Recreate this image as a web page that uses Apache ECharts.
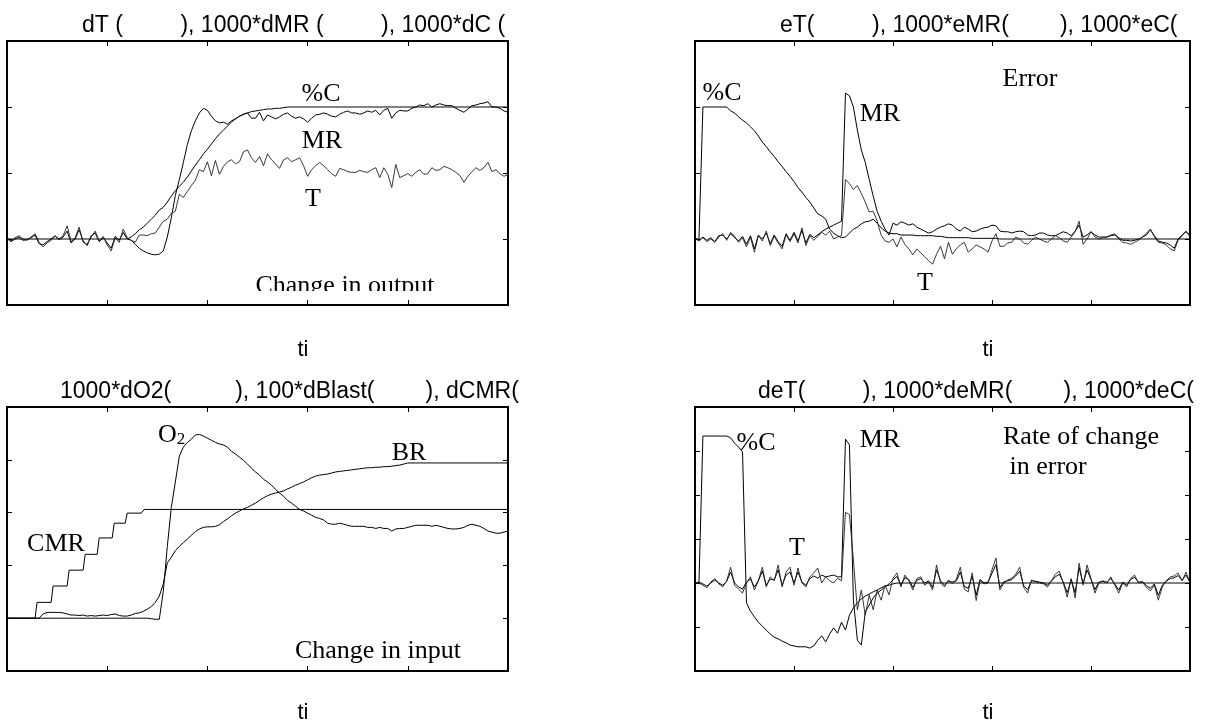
<!DOCTYPE html>
<html>
<head>
<meta charset="utf-8">
<script src="https://cdn.jsdelivr.net/npm/echarts@6/dist/echarts.min.js"></script>
<style>
html, body { margin: 0; padding: 0; background: #fff; }
#chart { width: 1209px; height: 726px; }
</style>
</head>
<body>
<div id="chart"></div>
<script>
// Sample instants shared by every panel (0..250, every 2 time units)
const t = Array.from({ length: 126 }, (_, i) => i * 2);

// Panel 1: change in output
const dC = [
  0,0,0,0,0,0,0,0,0,0,
  0,0,0,0,0,0,0,0,0,0,
  0,0,0,0,0,0,0,0,0,0,
  0,0.03,0.08,0.14,0.18,0.24,0.30,0.36,0.44,0.48,
  0.56,0.65,0.73,0.80,0.86,0.94,1.03,1.12,1.20,1.29,
  1.36,1.44,1.52,1.59,1.65,1.71,1.77,1.82,1.86,1.89,
  1.91,1.93,1.94,1.95,1.96,1.97,1.97,1.98,1.98,1.99,
  2,2,2,2,2,2,2,2,2,2,
  2,2,2,2,2,2,2,2,2,2,
  2,2,2,2,2,2,2,2,2,2,
  2,2,2,2,2,2,2,2,2,2,
  2,2,2,2,2,2,2,2,2,2,
  2,2,2,2,2,2
];
const dMR = [
  0.02,-0.04,0,0.03,-0.02,-0.01,0.02,0.06,-0.07,-0.09,
  -0.04,0,0.05,-0.01,0.03,0.12,-0.06,0,0.14,-0.03,
  -0.1,0.05,0.09,-0.04,0.02,-0.06,-0.14,0.04,-0.02,0.1,
  0,-0.02,-0.08,-0.14,-0.18,-0.21,-0.23,-0.24,-0.23,-0.18,
  0.03,0.32,0.66,0.90,1.16,1.43,1.64,1.79,1.91,1.98,
  1.95,1.86,1.79,1.76,1.77,1.74,1.79,1.82,1.86,1.89,
  1.91,1.83,1.83,1.92,1.79,1.88,1.85,1.82,1.85,1.89,
  1.91,1.86,1.83,1.85,1.82,1.77,1.83,1.88,1.89,1.91,
  1.89,1.86,1.85,1.89,1.92,1.94,1.91,1.91,1.89,1.91,
  1.94,1.92,1.95,1.88,1.95,1.98,1.83,1.91,1.95,1.94,
  1.94,1.98,2.0,2.03,2.02,2.05,2.0,2.03,2.05,2.03,
  2.02,2.02,1.98,1.95,1.92,1.97,2.02,2.03,2.05,2.06,
  2.08,2.0,2.0,1.98,1.94,1.92
];
const dT = [
  0,-0.03,0.02,0.05,0,-0.02,0.03,0.08,-0.05,-0.12,
  -0.06,-0.02,0.04,0,0.05,0.2,-0.04,0.02,0.18,-0.05,
  -0.08,0.03,0.12,-0.03,0.04,-0.09,-0.18,0.02,-0.05,0.15,
  0.02,-0.02,-0.05,0.06,0.06,0.05,0.08,0.09,0.18,0.27,
  0.30,0.39,0.42,0.68,0.63,0.72,0.81,0.89,1.05,1.02,
  1.17,0.96,1.19,0.98,1.10,1.17,1.20,1.14,1.17,1.32,
  1.35,1.23,1.16,1.25,1.11,1.29,1.20,1.14,1.07,1.20,
  1.23,1.17,1.20,1.23,1.11,0.95,1.05,1.11,1.16,1.11,
  1.05,0.99,0.95,1.07,1.05,1.02,1.01,1.01,1.04,1.02,
  1.01,1.05,1.08,0.93,1.08,0.98,0.78,1.13,0.93,0.96,
  0.99,0.95,1.01,1.05,0.98,0.99,1.08,1.04,1.05,1.10,
  1.08,1.05,1.01,0.96,0.86,0.95,1.02,1.08,1.04,1.08,
  1.16,1.02,1.05,0.99,0.95,0.98
];

// Panel 2: error
const eC = [
  0,0,2,2,2,2,2,2,2,1.94,
  1.91,1.85,1.80,1.76,1.70,1.64,1.56,1.47,1.40,1.32,
  1.25,1.17,1.10,1.02,0.95,0.87,0.78,0.71,0.63,0.56,
  0.47,0.38,0.35,0.30,0.15,0.09,0.05,0.02,0.03,0.09,
  0.15,0.18,0.23,0.26,0.27,0.30,0.24,0.17,0.12,0.09,
  0.08,0.08,0.06,0.06,0.06,0.06,0.05,0.05,0.05,0.05,
  0.05,0.04,0.04,0.03,0.02,0.02,0.02,0.02,0.02,0.02,
  0.01,0.01,0.01,0.01,0.01,0.01,0.01,0,0,0,
  0,0,0,0,0,0,0,0,0,0,
  0,0,0,0,0,0,0,0,0,0,
  0,0,0,0,0,0,0,0,0,0,
  0,0,0,0,0,0,0,0,0,0,
  0,0,0,0,0,0
];
const eMR = [
  0,-0.02,0.03,-0.02,0.02,-0.04,0.05,0.06,0,0.08,
  0.02,-0.03,0.04,-0.08,0.05,-0.15,0.06,0,0.09,-0.07,
  0.06,-0.04,-0.11,0.08,-0.02,0.1,-0.03,0.13,-0.06,0.07,
  0.02,0.06,0.11,0.15,0.18,0.21,0.24,0.27,2.21,2.17,
  2.0,1.65,1.35,1.16,0.90,0.65,0.42,0.27,0.15,0.06,
  0.24,0.21,0.26,0.24,0.21,0.23,0.18,0.15,0.12,0.09,
  0.11,0.15,0.18,0.20,0.23,0.21,0.15,0.12,0.18,0.15,
  0.11,0.12,0.15,0.17,0.18,0.21,0.20,0.12,0.11,0.11,
  0.09,0.11,0.12,0.11,0.06,0.05,0.06,0.09,0.09,0.06,
  0.05,0.05,0.08,0.11,0.09,0.05,0.12,0.21,0.03,0.06,
  0.11,0.06,0.03,0.03,0.03,0.05,0.06,0.02,-0.02,-0.02,
  -0.03,-0.02,0,0.03,0.06,0.14,0.05,-0.03,-0.05,-0.06,
  -0.09,-0.14,0,0.06,0.11,0.06
];
const eT = [
  0.02,-0.03,0.02,-0.04,0,-0.05,0.03,0.08,-0.02,0.1,
  0.04,-0.05,0.02,-0.12,0.03,-0.2,0.05,-0.03,0.12,-0.1,
  0.04,-0.06,-0.15,0.06,-0.04,0.08,-0.06,0.17,-0.1,0.05,
  -0.02,0.04,0.1,0.06,0.12,0,0.03,0.05,0.90,0.84,
  0.75,0.81,0.69,0.56,0.41,0.42,0.27,0.06,-0.03,-0.05,
  0,-0.12,0.03,-0.08,-0.15,-0.24,-0.15,-0.21,-0.27,-0.33,
  -0.38,-0.23,-0.11,-0.30,-0.05,-0.23,-0.15,-0.09,-0.05,-0.20,
  -0.15,-0.09,-0.12,-0.15,-0.20,-0.03,0.08,-0.11,-0.11,-0.06,
  -0.05,0.03,0,-0.06,-0.08,-0.02,0.03,0,-0.03,-0.05,
  0,0.05,0.02,-0.03,-0.05,0.03,0.11,0.27,-0.08,0,
  0.11,0.03,0,0.02,0.03,0.06,0.08,0,-0.05,-0.06,
  -0.08,-0.05,-0.02,0.03,0.09,0.15,0.03,-0.05,-0.06,-0.09,
  -0.15,-0.18,-0.02,0.05,0.12,0.03
];

// Panel 3: change in input
const dO2 = [
  0,0,0,0,0,0,0,0,0,0,
  0,0,0,0,0,0,0,0,0,0,
  0,0,0,0,0,0,0,0,0,0,
  0,0,0,0,0,0,-0.01,-0.02,-0.02,0.51,
  1.36,2.10,2.58,3.07,3.24,3.33,3.39,3.47,3.48,3.45,
  3.41,3.37,3.33,3.30,3.28,3.24,3.16,3.11,3.05,2.99,
  2.92,2.84,2.77,2.71,2.63,2.58,2.52,2.44,2.37,2.31,
  2.23,2.18,2.12,2.06,2.03,1.99,1.95,1.91,1.89,1.86,
  1.80,1.78,1.78,1.80,1.78,1.76,1.74,1.74,1.74,1.74,
  1.72,1.72,1.70,1.72,1.70,1.70,1.65,1.69,1.70,1.70,
  1.72,1.74,1.76,1.76,1.76,1.76,1.74,1.76,1.74,1.72,
  1.70,1.69,1.69,1.70,1.72,1.76,1.78,1.76,1.74,1.70,
  1.65,1.63,1.61,1.61,1.63,1.65
];
const dBlast = [
  0,0,0,0,0,0,0,0,0,0.08,
  0.11,0.11,0.11,0.11,0.10,0.08,0.06,0.06,0.05,0.06,
  0.04,0.05,0.04,0.05,0.06,0.05,0.07,0.08,0.05,0.04,
  0.04,0.06,0.09,0.10,0.13,0.17,0.22,0.30,0.42,0.65,
  1.05,1.15,1.28,1.36,1.43,1.50,1.57,1.64,1.69,1.72,
  1.73,1.73,1.74,1.77,1.83,1.88,1.94,1.99,2.03,2.07,
  2.10,2.14,2.18,2.23,2.28,2.32,2.35,2.37,2.39,2.41,
  2.45,2.48,2.52,2.55,2.58,2.62,2.66,2.69,2.71,2.72,
  2.73,2.75,2.77,2.78,2.79,2.80,2.81,2.82,2.83,2.84,
  2.85,2.85,2.86,2.86,2.87,2.87,2.88,2.89,2.90,2.92,
  2.94,2.94,2.94,2.94,2.94,2.94,2.94,2.94,2.94,2.94,
  2.94,2.94,2.94,2.94,2.94,2.94,2.94,2.94,2.94,2.94,
  2.94,2.94,2.94,2.94,2.94,2.94
];
// CMR set-point staircase: corner instants and levels (risers take about one time unit)
const cmrT = [0, 14, 15, 22, 23, 30, 31, 38, 39, 45, 46, 52.5, 53.5, 59, 60, 67, 68.5, 250];
const cmrV = [0, 0, 0.30, 0.30, 0.61, 0.61, 0.91, 0.91, 1.21, 1.21, 1.52, 1.52, 1.80, 1.80, 1.99, 1.99, 2.06, 2.06];

// Panel 4: rate of change in error
const deC = [
  0,0,3.34,3.34,3.34,3.34,3.34,3.34,3.34,3.30,
  3.18,3.09,2.98,-0.45,-0.64,-0.77,-0.89,-0.98,-1.07,-1.16,
  -1.23,-1.27,-1.32,-1.36,-1.41,-1.43,-1.45,-1.45,-1.45,-1.48,
  -1.43,-1.30,-1.20,-1.34,-1.16,-1.02,-1.14,-0.89,-1.07,-0.73,
  -0.57,-0.45,-0.36,-0.30,-0.25,-0.20,-0.16,-0.11,-0.07,-0.05,
  -0.02,0,0,0,0,0,0,0,0,0,
  0,0,0,0,0,0,0,0,0,0,
  0,0,0,0,0,0,0,0,0,0,
  0,0,0,0,0,0,0,0,0,0,
  0,0,0,0,0,0,0,0,0,0,
  0,0,0,0,0,0,0,0,0,0,
  0,0,0,0,0,0,0,0,0,0,
  0,0,0,0,0,0
];
const deMR = [
  0,0.02,-0.02,-0.07,0,0.07,0,-0.05,0.04,0.25,
  0,-0.09,-0.14,0.02,0.09,-0.09,0.05,0.27,-0.05,0.09,
  0.07,0.3,-0.05,0.18,0.25,0,0.25,0.02,-0.05,0.1,
  0.16,0.11,0.18,0.14,0.16,0.18,0.14,0.14,3.27,3.14,
  -0.39,-1.30,-1.41,-0.66,-0.50,-0.34,-0.23,-0.16,-0.09,-0.02,
  0.07,0.15,-0.05,0.12,0.08,-0.1,0.06,0.1,0,0.05,
  -0.1,0.3,0.05,-0.05,0.04,0.02,0.05,0.25,-0.08,-0.12,
  0.16,-0.28,0.08,0,0.02,0.22,0.42,-0.1,0.03,0.05,
  0.08,0.16,0.27,-0.06,-0.15,0.05,0.04,0.02,0,-0.05,
  0.04,0.14,0.2,0.02,-0.22,0.08,-0.22,0.35,-0.02,0.3,
  0.08,-0.15,0.02,0.04,0.02,0.1,-0.02,-0.16,0.02,-0.05,
  0.08,0.13,0.02,0.03,-0.06,-0.12,-0.02,-0.28,-0.05,0.04,
  0.1,0.12,0.17,0.06,0.18,0.02
];
const deT = [
  0,0,-0.05,-0.11,0.02,0.1,-0.02,-0.09,0.05,0.36,
  -0.05,-0.14,-0.23,0,0.14,-0.16,0.05,0.36,-0.09,0.14,
  0.05,0.41,-0.09,0.25,0.36,-0.05,0.34,0,-0.09,0.14,
  0.23,0.34,0,0.14,0.05,0,0.11,0.05,1.61,1.55,
  0.52,-0.61,-0.16,-0.73,-0.27,-0.61,-0.16,-0.39,-0.05,-0.27,
  0.11,0.23,-0.09,0.18,0.05,-0.16,0.10,0.14,-0.05,0.02,
  -0.16,0.41,0,-0.09,0.07,-0.02,0.09,0.36,-0.14,-0.20,
  0.23,-0.40,0.05,-0.02,0,0.30,0.57,-0.16,0,0.07,
  0.11,0.20,0.36,-0.10,-0.23,0.07,0.02,0,-0.02,-0.09,
  0.05,0.20,0.27,0,-0.32,0.10,-0.34,0.45,-0.05,0.41,
  0.10,-0.23,0,0.05,0,0.14,-0.05,-0.23,0,-0.09,
  0.10,0.18,0,0.02,-0.10,-0.18,-0.05,-0.39,-0.09,0.05,
  0.14,0.16,0.23,0.05,0.25,0
];

// Axis titles and annotations
const titles = [
  'dT (         ), 1000*dMR (         ), 1000*dC (',
  'eT(         ), 1000*eMR(        ), 1000*eC(',
  '1000*dO2(          ), 100*dBlast(        ), dCMR(',
  'deT(         ), 1000*deMR(        ), 1000*deC('
];
const xName = 'ti';

// Layout of the four panels (pixels) and their vertical ranges
const panels = [
  { left: 7,   top: 41,  width: 501, height: 264, ymin: -1, ymax: 3, titleX: 82,  titleY: 26,  nameX: 303, nameY: 350 },
  { left: 695, top: 41,  width: 495, height: 264, ymin: -1, ymax: 3, titleX: 780, titleY: 26,  nameX: 988, nameY: 350 },
  { left: 7,   top: 407, width: 501, height: 264, ymin: -1, ymax: 4, titleX: 60,  titleY: 392, nameX: 303, nameY: 713 },
  { left: 695, top: 407, width: 495, height: 264, ymin: -2, ymax: 4, titleX: 758, titleY: 392, nameX: 988, nameY: 713 }
];

const pts = vals => vals.map((v, i) => [t[i], v]);

const frameLine = { show: true, onZero: false, lineStyle: { color: '#000', width: 2 } };
const tick = { show: true, inside: true, length: 5, lineStyle: { color: '#000', width: 1 } };

const grid = [], xAxis = [], yAxis = [];
panels.forEach((p, i) => {
  grid.push({ left: p.left, top: p.top, width: p.width, height: p.height, containLabel: false });
  ['bottom', 'top'].forEach(pos => xAxis.push({
    type: 'value', gridIndex: i, position: pos, min: 0, max: 250, interval: 50,
    axisLine: frameLine, axisTick: tick, axisLabel: { show: false }, splitLine: { show: false }
  }));
  ['left', 'right'].forEach(pos => yAxis.push({
    type: 'value', gridIndex: i, position: pos, min: p.ymin, max: p.ymax, interval: 1,
    axisLine: frameLine, axisTick: tick, axisLabel: { show: false }, splitLine: { show: false }
  }));
});

function line(panel, data, extra) {
  return Object.assign({
    type: 'line', xAxisIndex: panel * 2, yAxisIndex: panel * 2, data: data,
    symbol: 'none', showSymbol: false, silent: true, animation: false,
    lineStyle: { color: '#000', width: 1 }
  }, extra || {});
}

const thin = { lineStyle: { color: '#222', width: 0.9 } };
const series = [
  line(0, pts(dC)), line(0, pts(dMR)), line(0, pts(dT), thin),
  line(1, pts(eC)), line(1, pts(eMR)), line(1, pts(eT), thin),
  line(2, pts(dO2)), line(2, pts(dBlast)),
  line(2, cmrT.map((x, i) => [x, cmrV[i]])),
  line(3, pts(deC)), line(3, pts(deMR)), line(3, pts(deT), thin)
];

const sans = '"Liberation Sans", Arial, sans-serif';
const serif = '"Liberation Serif", "Times New Roman", serif';

function label(text, x, y, align, size) {
  return {
    type: 'text', z: 10, x: x, y: y,
    style: { text: text, font: (size || 26) + 'px ' + serif, fill: '#000',
             textAlign: align || 'center', textVerticalAlign: 'middle' }
  };
}

const graphic = [];
panels.forEach((p, i) => {
  graphic.push({ type: 'text', z: 10, x: p.titleX, y: p.titleY,
    style: { text: titles[i], font: '23px ' + sans, fill: '#000', textAlign: 'left', textVerticalAlign: 'middle' } });
  graphic.push({ type: 'text', z: 10, x: p.nameX, y: p.nameY,
    style: { text: xName, font: '22px ' + sans, fill: '#000', textAlign: 'center', textVerticalAlign: 'middle' } });
});

// annotations on the curves
graphic.push(
  label('%C', 321, 94), label('MR', 322, 141), label('T', 313, 199),
  label('Change in output', 345, 286),
  label('%C', 722, 93), label('MR', 880, 114), label('Error', 1030, 79), label('T', 925, 283),
  {
    type: 'text', z: 10, x: 158, y: 435,
    style: {
      text: '{o|O}{s|2}', fill: '#000', textAlign: 'left', textVerticalAlign: 'middle',
      rich: {
        o: { font: '26px ' + serif, verticalAlign: 'bottom' },
        s: { font: '17px ' + serif, verticalAlign: 'bottom', padding: [6, 0, 0, 0] }
      }
    }
  },
  label('BR', 409, 453), label('CMR', 56, 544), label('Change in input', 378, 651),
  label('%C', 756, 443), label('MR', 880, 440), label('T', 797, 548),
  label('Rate of change', 1003, 437, 'left'), label(' in error', 1003, 467, 'left'),
  // the caption under the first panel is cut along its lower edge
  { type: 'rect', z: 11, shape: { x: 250, y: 291, width: 195, height: 8.5 }, style: { fill: '#fff' } }
);

const chart = echarts.init(document.getElementById('chart'), null, { renderer: 'canvas' });
chart.setOption({
  animation: false,
  backgroundColor: '#fff',
  grid: grid, xAxis: xAxis, yAxis: yAxis,
  series: series,
  graphic: graphic
});
</script>
</body>
</html>
